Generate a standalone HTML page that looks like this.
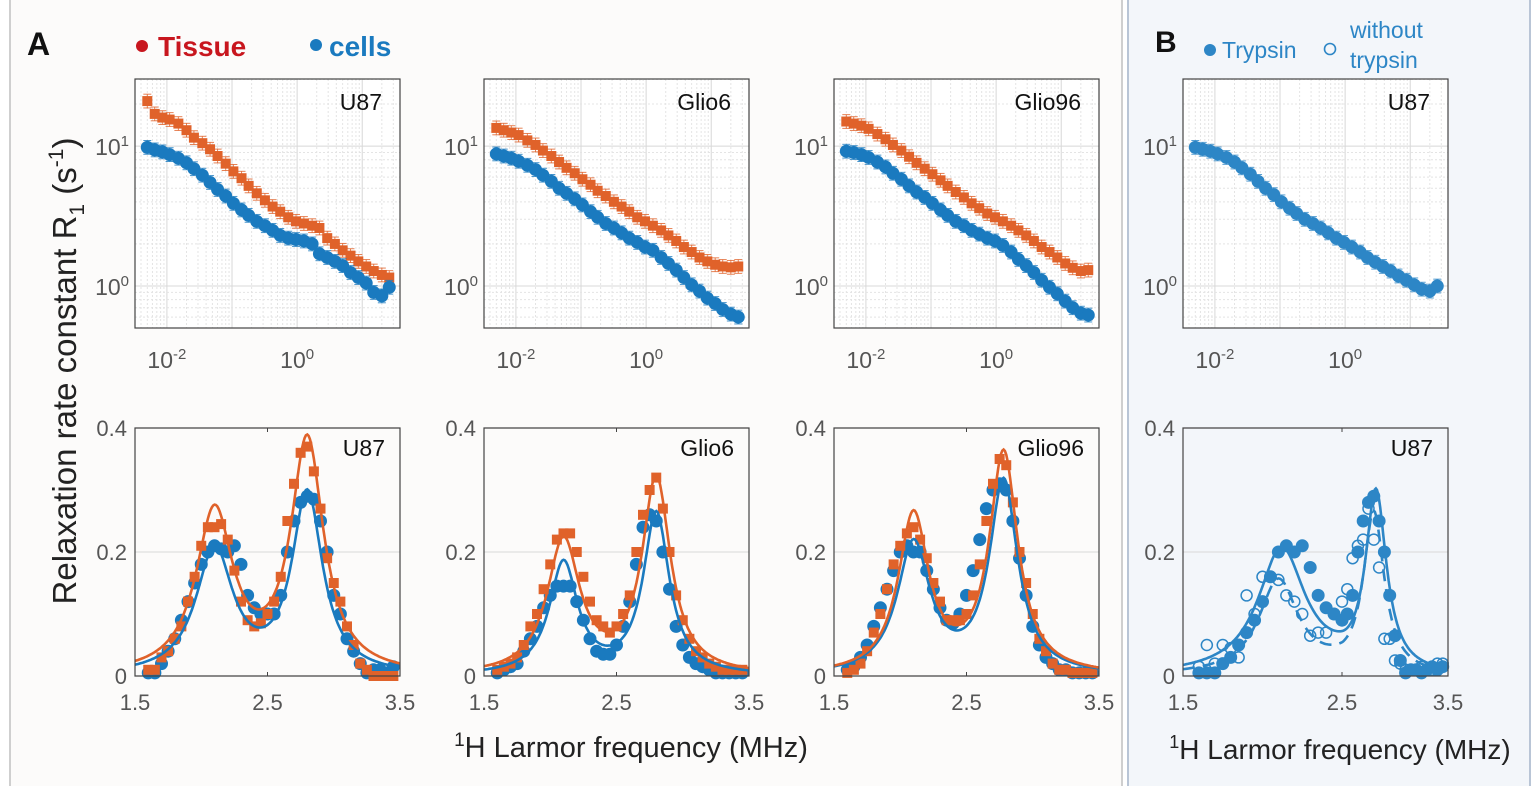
<!DOCTYPE html>
<html><head><meta charset="utf-8">
<style>
html,body{margin:0;padding:0;background:#fff;}
body{width:1537px;height:786px;overflow:hidden;font-family:"Liberation Sans",Arial,sans-serif;}
svg text{font-family:"Liberation Sans",Arial,sans-serif;}
</style></head>
<body>
<svg id="fig" width="1537" height="786" viewBox="0 0 1537 786" xmlns="http://www.w3.org/2000/svg">
<rect x="0" y="0" width="1537" height="786" fill="#ffffff"/>
<rect x="10" y="-2" width="1112" height="790" fill="#fcfbfa" stroke="#cfcfcf" stroke-width="2"/>
<rect x="1128" y="-2" width="402" height="790" fill="#f3f6fa" stroke="#b9c5d6" stroke-width="2"/>
<text x="27" y="55" font-size="32" font-weight="bold" fill="#111">A</text>
<text x="1155" y="52" font-size="30" font-weight="bold" fill="#111">B</text>
<g>
<circle cx="142" cy="46" r="6" fill="#c8161e"/>
<text x="158" y="56" font-size="28" font-weight="bold" fill="#c8161e">Tissue</text>
<circle cx="316" cy="45" r="6" fill="#1a7abf"/>
<text x="329" y="56" font-size="28" font-weight="bold" fill="#1a7abf">cells</text>
</g>
<g>
<circle cx="1210" cy="50" r="6" fill="#2d86c6"/>
<text x="1222" y="58" font-size="23" fill="#2d86c6">Trypsin</text>
<circle cx="1330" cy="49" r="5.5" fill="none" stroke="#2d86c6" stroke-width="1.6"/>
<text x="1350" y="38" font-size="23" fill="#2d86c6">without</text>
<text x="1350" y="68" font-size="23" fill="#2d86c6">trypsin</text>
</g>
<text transform="translate(76,371) rotate(-90)" text-anchor="middle" font-size="33" fill="#222">Relaxation rate constant R<tspan font-size="21" dy="8">1</tspan><tspan dy="-8"> (s</tspan><tspan font-size="21" dy="-13">-1</tspan><tspan dy="13">)</tspan></text>
<text x="631" y="757" text-anchor="middle" font-size="29" fill="#222"><tspan font-size="19" dy="-11">1</tspan><tspan dy="11">H Larmor frequency (MHz)</tspan></text>
<text x="1340" y="759" text-anchor="middle" font-size="28" fill="#222"><tspan font-size="18" dy="-11">1</tspan><tspan dy="11">H Larmor frequency (MHz)</tspan></text>
<g id="plots"></g>
</svg>
<script>
// ---------- data: NMRD log-log (top) ----------
const nmrdFreq = [0.005,0.0065,0.0085,0.011,0.015,0.02,0.026,0.035,0.046,0.06,0.08,0.105,0.14,0.18,0.24,0.32,0.42,0.55,0.73,0.96,1.27,1.7,2.2,2.9,3.8,5,6.6,8.7,11.5,15,20,26];
const u87Tissue  = [21,17,16,15.5,14.5,13,11.5,10.5,9.5,8.5,7.5,6.6,5.9,5.2,4.6,4.1,3.7,3.4,3.1,2.9,2.8,2.7,2.6,2.2,2.0,1.8,1.65,1.5,1.38,1.28,1.2,1.15];
const u87Cells   = [9.8,9.4,9.1,8.7,8.2,7.6,6.9,6.2,5.5,4.9,4.4,3.9,3.5,3.2,2.9,2.7,2.5,2.3,2.2,2.15,2.1,2.0,1.7,1.6,1.5,1.4,1.25,1.15,1.05,0.9,0.85,0.98];
const glio6Tissue= [13.5,13,12.5,12,11,10.2,9.3,8.5,7.7,7,6.4,5.8,5.3,4.8,4.4,4.0,3.7,3.4,3.1,2.9,2.7,2.5,2.3,2.1,1.9,1.75,1.6,1.5,1.42,1.38,1.36,1.38];
const glio6Cells = [8.8,8.5,8.2,7.8,7.3,6.8,6.2,5.6,5.0,4.6,4.2,3.8,3.4,3.1,2.8,2.6,2.4,2.2,2.05,1.9,1.8,1.6,1.45,1.3,1.15,1.02,0.92,0.82,0.75,0.68,0.63,0.6];
const glio96Tissue=[15,14.5,14,13.3,12.2,11.2,10.2,9.3,8.4,7.6,6.9,6.3,5.7,5.2,4.7,4.3,3.9,3.6,3.3,3.1,2.9,2.7,2.5,2.3,2.1,1.9,1.75,1.6,1.45,1.35,1.28,1.3];
const glio96Cells= [9.2,9.0,8.7,8.3,7.7,7.1,6.4,5.8,5.2,4.7,4.3,3.9,3.5,3.2,2.9,2.7,2.5,2.35,2.2,2.1,1.95,1.75,1.55,1.4,1.25,1.1,0.98,0.88,0.78,0.7,0.64,0.62];
const bTrypsin   = [9.8,9.5,9.2,8.8,8.3,7.7,7.0,6.3,5.6,5.0,4.5,4.0,3.6,3.3,3.0,2.8,2.6,2.4,2.2,2.05,1.9,1.75,1.6,1.48,1.38,1.28,1.18,1.1,1.02,0.95,0.92,1.0];
const topTicksX = [-2,0];
const topTicksY = [0,1];

// ---------- data: bottom (linear) ----------
const relaxFreq = [1.6,1.65,1.7,1.75,1.8,1.85,1.9,1.95,2.0,2.05,2.1,2.15,2.2,2.25,2.3,2.35,2.4,2.45,2.5,2.55,2.6,2.65,2.7,2.75,2.8,2.85,2.9,2.95,3.0,3.05,3.1,3.15,3.2,3.25,3.3,3.35,3.4,3.45];
const u87TissueB  = [0.01,0.01,0.03,0.04,0.06,0.08,0.12,0.16,0.21,0.24,0.24,0.245,0.22,0.17,0.12,0.09,0.08,0.085,0.1,0.12,0.16,0.25,0.31,0.36,0.37,0.33,0.27,0.19,0.15,0.12,0.08,0.05,0.02,0.01,0.0,0.0,0.0,0.0];
const u87CellsB   = [0.005,0.005,0.02,0.04,0.06,0.09,0.12,0.15,0.18,0.2,0.21,0.205,0.2,0.21,0.18,0.13,0.11,0.1,0.1,0.1,0.13,0.2,0.25,0.28,0.29,0.285,0.25,0.2,0.13,0.1,0.06,0.04,0.02,0.005,0.01,0.01,0.005,0.015];
const glio6TissueB= [0.01,0.015,0.02,0.03,0.05,0.08,0.1,0.14,0.18,0.22,0.23,0.23,0.2,0.16,0.12,0.09,0.08,0.07,0.08,0.1,0.13,0.2,0.26,0.3,0.32,0.27,0.2,0.13,0.09,0.06,0.04,0.03,0.02,0.015,0.01,0.01,0.01,0.01];
const glio6CellsB = [0.005,0.01,0.015,0.02,0.04,0.06,0.08,0.11,0.13,0.145,0.145,0.145,0.12,0.09,0.06,0.04,0.035,0.035,0.05,0.08,0.12,0.18,0.24,0.26,0.25,0.2,0.14,0.08,0.05,0.03,0.02,0.015,0.01,0.005,0.005,0.005,0.005,0.005];
const glio96TissueB=[0.005,0.01,0.02,0.04,0.07,0.1,0.14,0.18,0.21,0.23,0.24,0.22,0.19,0.15,0.12,0.09,0.09,0.09,0.1,0.13,0.18,0.25,0.31,0.35,0.34,0.28,0.2,0.15,0.1,0.06,0.04,0.02,0.01,0.01,0.005,0.005,0.005,0.005];
const glio96CellsB= [0.01,0.015,0.03,0.05,0.08,0.11,0.14,0.17,0.2,0.21,0.2,0.2,0.17,0.14,0.11,0.09,0.085,0.1,0.13,0.17,0.22,0.27,0.3,0.31,0.3,0.25,0.19,0.13,0.08,0.05,0.03,0.02,0.01,0.01,0.005,0.005,0.005,0.005];
const bTrypsinB   = [0.005,0.005,0.005,0.02,0.03,0.05,0.07,0.09,0.12,0.16,0.2,0.21,0.2,0.21,0.175,0.13,0.11,0.1,0.09,0.1,0.13,0.2,0.25,0.28,0.29,0.25,0.2,0.13,0.065,0.025,0.005,0.01,0.01,0.005,0.01,0.015,0.01,0.015];
const bNoTrypsinB = [0.015,0.05,0.02,0.05,0.045,0.03,0.13,0.1,0.16,0.16,0.155,0.13,0.12,0.1,0.065,0.07,0.07,0.1,0.12,0.14,0.19,0.21,0.22,0.27,0.22,0.175,0.06,0.06,0.025,0.02,0.01,0.01,0.01,0.015,0.01,0.01,0.02,0.02];
// Lorentzian fit parameters: [center, amplitude, half-width]
const fitU87Tissue   = [[2.1,0.26,0.17],[2.8,0.375,0.15]];
const fitU87Cells    = [[2.1,0.2,0.17],[2.8,0.29,0.14]];
const fitG6Tissue    = [[2.1,0.215,0.15],[2.8,0.315,0.13]];
const fitG6Cells     = [[2.1,0.18,0.13],[2.8,0.26,0.12]];
const fitG96Tissue   = [[2.1,0.255,0.14],[2.78,0.355,0.13]];
const fitG96Cells    = [[2.1,0.21,0.15],[2.78,0.31,0.13]];
const fitBTrypsin    = [[2.12,0.2,0.18],[2.82,0.29,0.12]];
const fitBNoTrypsin  = [[2.1,0.15,0.15],[2.8,0.26,0.12]];
const botTicksX = [1.5,2.5,3.5];
const botTicksY = [0,0.2,0.4];

const ORANGE="#e0622a", BLUE="#1a7abf", BBLUE="#2d86c6";
const NS="http://www.w3.org/2000/svg";
const root=document.getElementById('plots');
function el(tag,attrs,parent){const e=document.createElementNS(NS,tag);for(const k in attrs)e.setAttribute(k,attrs[k]);(parent||root).appendChild(e);return e;}

function topPlot(x0,name,series){
  const y0=79,w=265,h=249;
  const xmin=-2.49,xmax=1.58,ymin=-0.3,ymax=1.48;
  const sx=v=>x0+(Math.log10(v)-xmin)/(xmax-xmin)*w;
  const sy=v=>y0+h-(Math.log10(v)-ymin)/(ymax-ymin)*h;
  const g=el('g',{});
  
  
  el('rect',{x:x0,y:y0,width:w,height:h,fill:'#fff'},g);
  for(let d=-3;d<=1;d++){for(let m=1;m<10;m++){const v=m*Math.pow(10,d);const lx=Math.log10(v);if(lx<xmin||lx>xmax)continue;
    el('line',{x1:sx(v),x2:sx(v),y1:y0,y2:y0+h,stroke:m===1?'#d8d8d8':'#e4e4e4','stroke-width':1,'stroke-dasharray':m===1?'none':'2,2'},g);}}
  for(let d=-1;d<=1;d++){for(let m=1;m<10;m++){const v=m*Math.pow(10,d);const ly=Math.log10(v);if(ly<ymin||ly>ymax)continue;
    el('line',{x1:x0,x2:x0+w,y1:sy(v),y2:sy(v),stroke:m===1?'#d8d8d8':'#e4e4e4','stroke-width':1,'stroke-dasharray':m===1?'none':'2,2'},g);}}
  series.forEach(s=>{
    const sg=el('g',{},g);
    
    
    nmrdFreq.forEach((f,i)=>{const v=s.vals[i];const X=sx(f),Y=sy(v);
      el('line',{x1:X,x2:X,y1:sy(v*1.12),y2:sy(v/1.12),stroke:s.color,'stroke-width':1,opacity:0.8},sg);
      el('line',{x1:X-4,x2:X+4,y1:sy(v*1.12),y2:sy(v*1.12),stroke:s.color,'stroke-width':1,opacity:0.8},sg);
      el('line',{x1:X-4,x2:X+4,y1:sy(v/1.12),y2:sy(v/1.12),stroke:s.color,'stroke-width':1,opacity:0.8},sg);
      if(s.shape==='sq')el('rect',{x:X-5,y:Y-5,width:10,height:10,fill:s.color},sg);
      else el('circle',{cx:X,cy:Y,r:6.5,fill:s.color},sg);
    });
  });
  el('rect',{x:x0,y:y0,width:w,height:h,fill:'none',stroke:'#444','stroke-width':1.2},g);
  topTicksX.forEach(t=>{const X=sx(Math.pow(10,t));
    const tx=el('text',{x:X,y:y0+h+40,'text-anchor':'middle','font-size':23,fill:'#555'},g);
    
    
    tx.innerHTML='10<tspan font-size="15" dy="-9">'+t+'</tspan>';});
  topTicksY.forEach(t=>{const Y=sy(Math.pow(10,t));
    const tx=el('text',{x:x0-6,y:Y+9,'text-anchor':'end','font-size':23,fill:'#555'},g);
    
    
    tx.innerHTML='10<tspan font-size="15" dy="-9">'+t+'</tspan>';});
  const lb=el('text',{x:x0+w-18,y:y0+31,'text-anchor':'end','font-size':23,fill:'#111'},g);
  
  
  lb.textContent=name;
}

function lor(p,x){let s=0;p.forEach(q=>{const d=(x-q[0])/q[2];s+=q[1]/(1+d*d);});return s;}

function botPlot(x0,name,series,midPx){
  const y0=428,w=265,h=248;
  const mid = midPx===undefined ? x0+w/2 : midPx;
  const sx=v=> v<=2.5 ? x0+(v-1.5)*(mid-x0) : mid+(v-2.5)*(x0+w-mid);
  const sy=v=>y0+h-v/0.4*h;
  const g=el('g',{});
  
  
  el('line',{x1:x0,x2:x0+w,y1:sy(0.2),y2:sy(0.2),stroke:'#d8d8d8','stroke-width':1},g);
  series.forEach(s=>{
    const sg=el('g',{},g);
    
    
    relaxFreq.forEach((f,i)=>{const X=sx(f),Y=sy(s.vals[i]);
      if(s.shape==='sq')el('rect',{x:X-5,y:Y-5,width:10,height:10,fill:s.color},sg);
      else if(s.shape==='open')el('circle',{cx:X,cy:Y,r:5.5,fill:'none',stroke:s.color,'stroke-width':1.5},sg);
      else el('circle',{cx:X,cy:Y,r:6.5,fill:s.color},sg);
    });
  });
  series.forEach(s=>{
    let d='';for(let k=0;k<=200;k++){const x=1.5+2*k/200;d+=(k?'L':'M')+sx(x).toFixed(1)+','+sy(lor(s.fit,x)).toFixed(1);}
    const p=el('path',{d:d,fill:'none',stroke:s.color,'stroke-width':2.6},g);
    if(s.dash)p.setAttribute('stroke-dasharray','12,8');
    
    
  });
  el('path',{d:`M${x0},${y0}H${x0+w}V${y0+h}H${x0}Z`,fill:'none',stroke:'#444','stroke-width':1.2},g);
  botTicksX.forEach(t=>{const X=sx(t);
    el('line',{x1:X,x2:X,y1:y0+h,y2:y0+h-4,stroke:'#444'},g);
    el('line',{x1:X,x2:X,y1:y0,y2:y0+4,stroke:'#444'},g);
    const tx=el('text',{x:X,y:y0+h+34,'text-anchor':'middle','font-size':22,fill:'#555'},g);
    
    
    tx.textContent=t.toFixed(1);});
  botTicksY.forEach(t=>{const Y=sy(t);
    const tx=el('text',{x:x0-8,y:Y+8,'text-anchor':'end','font-size':22,fill:'#555'},g);
    
    
    tx.textContent=t===0?'0':t.toFixed(1);});
  const lb=el('text',{x:x0+w-15,y:y0+28,'text-anchor':'end','font-size':23,fill:'#111'},g);
  
  
  lb.textContent=name;
}

topPlot(135,'U87',[{name:'tissue-series',vals:u87Tissue,color:ORANGE,shape:'sq'},{name:'cells-series',vals:u87Cells,color:BLUE,shape:'c'}]);
topPlot(484,'Glio6',[{name:'tissue-series',vals:glio6Tissue,color:ORANGE,shape:'sq'},{name:'cells-series',vals:glio6Cells,color:BLUE,shape:'c'}]);
topPlot(834,'Glio96',[{name:'tissue-series',vals:glio96Tissue,color:ORANGE,shape:'sq'},{name:'cells-series',vals:glio96Cells,color:BLUE,shape:'c'}]);
topPlot(1183,'U87',[{name:'trypsin-series',vals:bTrypsin,color:BBLUE,shape:'c'}]);

botPlot(135,'U87',[{name:'cells-series',vals:u87CellsB,fit:fitU87Cells,color:BLUE,shape:'c'},{name:'tissue-series',vals:u87TissueB,fit:fitU87Tissue,color:ORANGE,shape:'sq'}]);
botPlot(484,'Glio6',[{name:'cells-series',vals:glio6CellsB,fit:fitG6Cells,color:BLUE,shape:'c'},{name:'tissue-series',vals:glio6TissueB,fit:fitG6Tissue,color:ORANGE,shape:'sq'}]);
botPlot(834,'Glio96',[{name:'cells-series',vals:glio96CellsB,fit:fitG96Cells,color:BLUE,shape:'c'},{name:'tissue-series',vals:glio96TissueB,fit:fitG96Tissue,color:ORANGE,shape:'sq'}]);
botPlot(1183,'U87',[{name:'without-trypsin-series',vals:bNoTrypsinB,fit:fitBNoTrypsin,color:BBLUE,shape:'open',dash:true},{name:'trypsin-series',vals:bTrypsinB,fit:fitBTrypsin,color:BBLUE,shape:'c'}],1342);
</script>
</body></html>
